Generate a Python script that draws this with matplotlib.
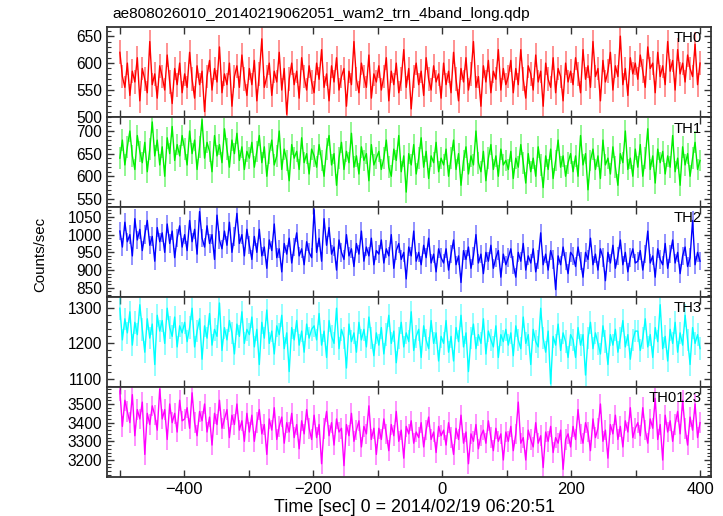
import matplotlib
matplotlib.use("Agg")
import matplotlib.pyplot as plt
from matplotlib.ticker import MultipleLocator
import numpy as np

plt.rcParams["font.family"] = ["Liberation Sans", "DejaVu Sans"]

TITLE = "ae808026010_20140219062051_wam2_trn_4band_long.qdp"
T_START, T_END = -500, 400

# count rates (coarse, ~3.5 s bins), one row per 100 s
th0 = [620, 575, 555, 600, 540, 585, 565, 610, 530, 590, 570, 545, 640, 560, 580, 535, 595, 575, 550, 615, 565, 525, 590, 560, 600, 545,
       580, 555, 620, 570, 535, 595, 560, 585, 510, 575, 605, 550, 590, 565, 630, 545, 580, 560, 600, 520, 575, 595, 555, 615, 570, 540,
       590, 560, 605, 530, 580, 645, 555, 575, 600, 540, 585, 565, 620, 550, 590, 505, 570, 600, 560, 585, 535, 610, 575, 550, 595, 565,
       545, 600, 570, 625, 555, 580, 530, 595, 565, 610, 550, 575, 590, 520, 585, 560, 640, 570, 545, 600, 575, 555, 615, 535, 580, 565,
       595, 550, 575, 610, 530, 585, 560, 600, 545, 570, 625, 555, 590, 515, 575, 600, 560, 585, 540, 610, 570, 550, 595, 565, 580, 535,
       600, 560, 585, 545, 620, 570, 530, 590, 565, 610, 550, 580, 640, 555, 575, 520, 595, 565, 605, 545, 585, 570, 625, 550, 590, 560,
       575, 605, 545, 590, 560, 625, 570, 535, 595, 580, 550, 615, 565, 585, 520, 600, 570, 555, 610, 545, 590, 575, 530, 600, 565, 585,
       560, 610, 580, 545, 625, 570, 595, 555, 640, 575, 590, 530, 605, 565, 585, 620, 550, 595, 575, 650, 560, 590, 540, 610, 580, 600,
       570, 615, 585, 555, 630, 590, 600, 545, 620, 575, 595, 560, 640, 585, 605, 550, 625, 580, 600, 565, 615, 590, 575, 635, 560, 600]
th1 = [640, 680, 625, 665, 700, 645, 615, 690, 655, 630, 675, 610, 660, 720, 645, 680, 625, 665, 600, 685, 650, 710, 635, 670, 645, 690,
       660, 625, 700, 650, 680, 615, 665, 725, 640, 675, 655, 610, 690, 645, 670, 630, 705, 660, 620, 680, 650, 695, 635, 665, 615, 655,
       640, 675, 620, 655, 690, 630, 665, 600, 650, 680, 625, 645, 700, 615, 660, 635, 590, 670, 640, 655, 615, 685, 630, 650, 605, 660,
       645, 620, 670, 635, 600, 660, 690, 625, 650, 580, 640, 675, 615, 655, 630, 695, 620, 645, 605, 665, 635, 650, 590, 670, 625, 640,
       655, 615, 640, 680, 620, 600, 660, 635, 690, 610, 645, 565, 650, 625, 670, 605, 640, 685, 620, 655, 595, 645, 630, 675, 610, 640,
       625, 660, 600, 640, 680, 615, 650, 580, 635, 665, 605, 645, 625, 700, 630, 610, 655, 590, 640, 670, 615, 645, 600, 660, 625, 635,
       615, 655, 595, 640, 620, 670, 630, 585, 650, 610, 640, 600, 665, 625, 575, 645, 615, 660, 595, 635, 680, 620, 645, 600, 630, 650,
       610, 645, 600, 690, 625, 650, 570, 635, 660, 615, 645, 595, 680, 625, 640, 605, 665, 620, 580, 650, 630, 700, 615, 640, 600, 660,
       620, 670, 600, 640, 705, 615, 645, 585, 660, 630, 655, 605, 645, 620, 690, 610, 640, 580, 665, 625, 650, 600, 640, 675, 615, 635]
th2 = [1010, 965, 1035, 980, 1000, 940, 1045, 985, 1015, 955, 1000, 1040, 970, 995, 925, 1020, 980, 1005, 950, 1030, 975, 1010, 935, 990, 1025, 965,
       1000, 955, 1040, 980, 1015, 945, 1065, 990, 965, 1025, 975, 1000, 930, 1055, 985, 960, 1010, 970, 1035, 950, 995, 1060, 975, 1000, 940, 1015,
       970, 930, 995, 950, 1015, 940, 965, 905, 985, 955, 1030, 935, 960, 895, 975, 945, 990, 920, 965, 1005, 940, 960, 915, 980, 950, 935,
       1070, 950, 990, 925, 1045, 970, 1020, 945, 965, 900, 985, 950, 930, 1000, 940, 960, 910, 975, 945, 1010, 925, 965, 940, 990, 915, 955,
       945, 985, 920, 960, 940, 1000, 905, 955, 975, 930, 950, 875, 965, 940, 1010, 925, 950, 915, 970, 935, 990, 920, 945, 895, 960, 935,
       920, 960, 900, 945, 985, 915, 940, 865, 955, 930, 965, 905, 940, 1000, 920, 945, 890, 950, 925, 970, 905, 935, 955, 880, 945, 915,
       935, 960, 915, 880, 950, 925, 975, 900, 940, 920, 960, 895, 930, 1005, 915, 945, 900, 955, 930, 845, 940, 915, 965, 925, 890, 950,
       940, 910, 965, 925, 880, 950, 930, 990, 915, 945, 900, 960, 935, 870, 950, 920, 970, 905, 940, 985, 915, 950, 895, 935, 960, 920,
       925, 955, 900, 945, 1010, 920, 940, 880, 960, 930, 915, 975, 905, 945, 985, 920, 950, 890, 940, 965, 910, 935, 1040, 915, 950, 925]
th3 = [1300, 1210, 1270, 1230, 1290, 1195, 1260, 1225, 1310, 1240, 1175, 1270, 1215, 1255, 1140, 1280, 1235, 1265, 1200, 1300, 1245, 1220, 1275, 1190, 1250, 1230,
       1260, 1205, 1245, 1300, 1190, 1235, 1270, 1155, 1250, 1215, 1285, 1195, 1240, 1220, 1315, 1180, 1245, 1210, 1265, 1230, 1170, 1255, 1220, 1290, 1200, 1240,
       1225, 1275, 1190, 1240, 1140, 1260, 1215, 1295, 1200, 1235, 1170, 1250, 1225, 1280, 1185, 1230, 1120, 1245, 1210, 1265, 1195, 1235, 1175, 1255, 1215, 1240,
       1250, 1210, 1285, 1195, 1235, 1160, 1265, 1220, 1200, 1300, 1185, 1240, 1215, 1130, 1255, 1205, 1230, 1175, 1260, 1210, 1240, 1190, 1275, 1215, 1165, 1230,
       1195, 1245, 1170, 1225, 1280, 1200, 1235, 1145, 1215, 1260, 1190, 1230, 1205, 1290, 1180, 1220, 1240, 1160, 1250, 1210, 1185, 1265, 1200, 1230, 1150, 1220,
       1200, 1265, 1175, 1220, 1150, 1245, 1205, 1280, 1190, 1230, 1120, 1215, 1255, 1185, 1225, 1200, 1270, 1170, 1235, 1210, 1190, 1250, 1160, 1225, 1205, 1240,
       1195, 1230, 1165, 1250, 1210, 1185, 1275, 1200, 1225, 1140, 1240, 1205, 1190, 1300, 1215, 1175, 1235, 1085, 1220, 1195, 1255, 1180, 1230, 1205, 1160, 1225,
       1210, 1160, 1245, 1195, 1225, 1110, 1215, 1260, 1185, 1230, 1200, 1170, 1250, 1205, 1140, 1225, 1195, 1240, 1175, 1215, 1265, 1190, 1225, 1155, 1210, 1235,
       1235, 1180, 1215, 1270, 1190, 1225, 1160, 1245, 1205, 1310, 1185, 1220, 1150, 1240, 1200, 1260, 1175, 1230, 1195, 1280, 1210, 1140, 1245, 1200, 1225, 1185]
th0123 = [3570, 3380, 3520, 3460, 3400, 3550, 3330, 3470, 3420, 3510, 3230, 3450, 3390, 3490, 3440, 3360, 3580, 3420, 3470, 3310, 3500, 3400, 3450, 3350, 3520, 3410,
          3420, 3480, 3370, 3560, 3400, 3330, 3460, 3410, 3500, 3350, 3430, 3280, 3450, 3390, 3520, 3370, 3420, 3470, 3320, 3440, 3390, 3500, 3360, 3410, 3300, 3450,
          3350, 3440, 3300, 3400, 3470, 3340, 3390, 3230, 3420, 3360, 3480, 3310, 3380, 3430, 3290, 3400, 3350, 3450, 3320, 3390, 3260, 3410, 3340, 3470, 3370, 3310,
          3440, 3320, 3390, 3180, 3370, 3460, 3330, 3400, 3280, 3420, 3350, 3370, 3170, 3390, 3330, 3450, 3300, 3360, 3410, 3270, 3380, 3340, 3490, 3310, 3370, 3230,
          3370, 3310, 3420, 3340, 3250, 3390, 3330, 3460, 3300, 3360, 3210, 3380, 3340, 3410, 3290, 3350, 3320, 3400, 3270, 3360, 3430, 3310, 3350, 3240, 3380, 3330,
          3360, 3280, 3400, 3320, 3230, 3370, 3310, 3440, 3290, 3350, 3180, 3340, 3300, 3390, 3260, 3330, 3360, 3290, 3410, 3320, 3250, 3370, 3300, 3340, 3200, 3350,
          3300, 3380, 3250, 3340, 3510, 3290, 3320, 3200, 3360, 3310, 3270, 3400, 3290, 3330, 3160, 3350, 3300, 3380, 3240, 3320, 3290, 3360, 3150, 3310, 3340, 3270,
          3380, 3310, 3470, 3340, 3290, 3400, 3350, 3250, 3420, 3320, 3370, 3500, 3300, 3360, 3210, 3390, 3340, 3440, 3310, 3380, 3270, 3410, 3350, 3480, 3320, 3370,
          3400, 3330, 3480, 3360, 3290, 3420, 3370, 3530, 3310, 3390, 3200, 3440, 3350, 3410, 3300, 3390, 3460, 3340, 3520, 3370, 3280, 3430, 3360, 3500, 3320, 3400]

series = [th0, th1, th2, th3, th0123]
errors = [22, 24, 26, 32, 55]  # typical 1-sigma error bar half-length per band
names = ["TH0", "TH1", "TH2", "TH3", "TH0123"]
colors = ["#ff0000", "#00ee00", "#0000ff", "#00ffff", "#ff00ff"]
ylims = [(500, 667), (532, 731), (824, 1078), (1076, 1332), (3109, 3591)]
ymajor = [50, 50, 50, 100, 100]
yminor = [10, 10, 10, 20, 20]

W, H = 723, 516
fig = plt.figure(figsize=(W / 100, H / 100), dpi=100)
left, right, top, ph = 107, 711, 27, 90
for i, (vals, name, c) in enumerate(zip(series, names, colors)):
    y0 = top + ph * i
    ax = fig.add_axes([left / W, 1 - (y0 + ph) / H, (right - left) / W, ph / H])
    t = np.linspace(T_START, T_END, len(vals))
    v = np.array(vals, dtype=float)
    ax.vlines(t, v - errors[i], v + errors[i], color=c, lw=1.2, alpha=0.5)
    ax.plot(t, v, color=c, lw=1.0)
    ax.set_xlim(-520, 417)
    ax.set_ylim(*ylims[i])
    ax.xaxis.set_major_locator(MultipleLocator(200))
    ax.xaxis.set_minor_locator(MultipleLocator(100))
    ax.yaxis.set_major_locator(MultipleLocator(ymajor[i]))
    ax.yaxis.set_minor_locator(MultipleLocator(yminor[i]))
    ax.tick_params(which="both", direction="in", top=True, right=True, color="#333333")
    ax.tick_params(axis="y", labelsize=11.2)
    ax.tick_params(axis="x", labelsize=12)
    ax.tick_params(which="major", length=5, width=1)
    ax.tick_params(which="minor", length=3, width=0.8)
    ax.tick_params(axis="x", which="minor", length=5, width=1)
    for s in ax.spines.values():
        s.set_color("#333333")
        s.set_linewidth(1.3)
    if i < len(series) - 1:
        ax.tick_params(axis="x", labelbottom=False)
    ax.text(0.985, 0.95, name, transform=ax.transAxes, ha="right", va="top", fontsize=10.7)

fig.text(112 / W, 1 - 14 / H, TITLE, ha="left", va="center", fontsize=11.1)
fig.text(40 / W, 1 - 254 / H, "Counts/sec", rotation=90, ha="center", va="center", fontsize=10.8)
fig.text(414 / W, 1 - 507 / H, "Time [sec] 0 = 2014/02/19 06:20:51", ha="center", va="center",
         fontsize=12.9)

fig.savefig("out.png", dpi=100)
